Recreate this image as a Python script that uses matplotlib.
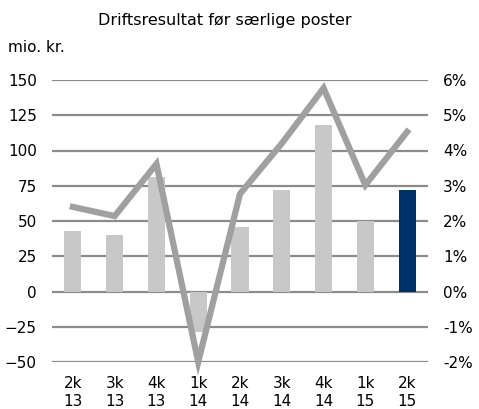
import numpy as np
import matplotlib.pyplot as plt

# Data
quarters = ['2k\n13', '3k\n13', '4k\n13', '1k\n14', '2k\n14', '3k\n14', '4k\n14', '1k\n15', '2k\n15']
result_mio = [43, 40, 81, -29, 46, 72, 118, 50, 72]
margin_pct = [2.4, 2.14, 3.62, -2.0, 2.77, 4.2, 5.77, 3.02, 4.53]
left_ticks = [-50, -25, 0, 25, 50, 75, 100, 125, 150]
right_ticks = [-2, -1, 0, 1, 2, 3, 4, 5, 6]

plt.rcParams['font.family'] = 'DejaVu Sans'

fig = plt.figure(figsize=(4.79, 4.09), dpi=100)
ax = fig.add_axes([52/479, 47/409, 376/479, 282/409])
x = np.arange(len(quarters))

bar_colors = ['#c8c8c8'] * (len(quarters) - 1) + ['#00306a']
ax.bar(x, result_mio, width=0.41, color=bar_colors, zorder=2)

for t in left_ticks:
    ax.axhline(t, color='#8c8c8c', lw=1.6, zorder=1)

ax.set_xlim(-0.5, len(quarters) - 0.5)
ax.set_ylim(-50, 150)
ax.set_yticks(left_ticks)
ax.set_xticks(x)
ax.set_xticklabels(quarters, fontsize=11, linespacing=1.3)
ax.tick_params(axis='y', length=0, pad=11, labelsize=11)
ax.tick_params(axis='x', length=0, pad=10)
for s in ax.spines.values():
    s.set_visible(False)

ax2 = ax.twinx()
ax2.plot(x, margin_pct, color='#a0a0a0', lw=4.5, solid_joinstyle='miter', zorder=3, clip_on=False)
ax2.set_ylim(-2, 6)
ax2.set_yticks(right_ticks)
ax2.set_yticklabels([f'{t}%' for t in right_ticks])
ax2.tick_params(axis='y', length=0, pad=11, labelsize=11)
for s in ax2.spines.values():
    s.set_visible(False)

fig.text(225/479, 1 - 20/409, 'Driftsresultat før særlige poster', ha='center', va='center', fontsize=11.5)
fig.text(8/479, 1 - 47/409, 'mio. kr.', ha='left', va='center', fontsize=11)

fig.savefig('out.png', dpi=100)
